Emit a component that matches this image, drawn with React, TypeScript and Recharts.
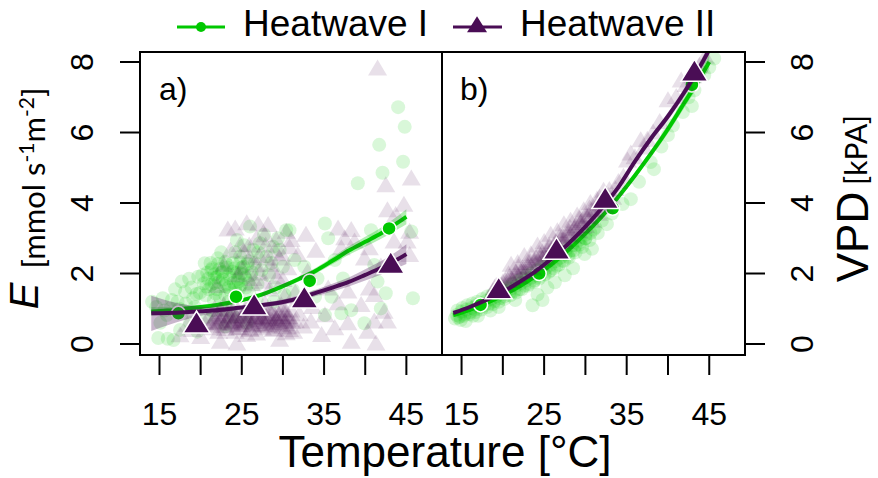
import { ComposedChart, XAxis, YAxis, Line, Area, Scatter, ReferenceArea } from 'recharts';

const GREEN = '#00C800';
const PURPLE = '#4A0D55';

// axes
const tempDomain: [number, number] = [12.63, 49.33];
const tempTicks = [15, 20, 25, 30, 35, 40, 45];
const tempLabels = [15, 25, 35, 45];
const valueDomain: [number, number] = [-0.312, 8.284];
const valueTicks = [0, 2, 4, 6, 8];

// fitted curves (and confidence limits), sampled along temperature
const fitTemps = [14, 16, 18, 20, 22, 24, 26, 28, 30, 32, 34, 36, 38, 40, 42, 44, 45];

const eFitHw1 = [0.92, 0.95, 1.0, 1.05, 1.11, 1.19, 1.3, 1.45, 1.64, 1.85, 2.08, 2.36, 2.65, 2.9, 3.15, 3.45, 3.61];
const eLoHw1 = [0.8, 0.86, 0.93, 0.99, 1.06, 1.14, 1.25, 1.4, 1.58, 1.78, 2.0, 2.26, 2.53, 2.76, 2.99, 3.26, 3.4];
const eHiHw1 = [1.04, 1.04, 1.07, 1.11, 1.16, 1.24, 1.35, 1.5, 1.7, 1.92, 2.16, 2.46, 2.77, 3.04, 3.31, 3.64, 3.82];

const eFitHw2 = [0.87, 0.88, 0.9, 0.93, 0.96, 1.01, 1.06, 1.12, 1.19, 1.3, 1.45, 1.6, 1.76, 1.96, 2.17, 2.41, 2.55];
const eLoHw2 = [0.37, 0.53, 0.68, 0.8, 0.88, 0.95, 1.0, 1.06, 1.12, 1.22, 1.36, 1.49, 1.63, 1.8, 1.98, 2.17, 2.27];
const eHiHw2 = [1.37, 1.23, 1.12, 1.06, 1.04, 1.07, 1.12, 1.18, 1.26, 1.38, 1.54, 1.71, 1.89, 2.12, 2.36, 2.65, 2.83];

const vFitHw1 = [0.82, 0.97, 1.16, 1.38, 1.63, 1.93, 2.28, 2.68, 3.13, 3.62, 4.18, 4.78, 5.42, 6.1, 6.85, 7.6, 8.0];
const vLoHw1 = [0.76, 0.92, 1.12, 1.34, 1.59, 1.89, 2.24, 2.64, 3.08, 3.56, 4.11, 4.7, 5.32, 5.98, 6.71, 7.43, 7.81];
const vHiHw1 = [0.88, 1.02, 1.2, 1.42, 1.67, 1.97, 2.32, 2.72, 3.18, 3.68, 4.25, 4.86, 5.52, 6.22, 6.99, 7.77, 8.19];

const vFitHw2 = [0.88, 1.05, 1.25, 1.48, 1.76, 2.07, 2.44, 2.86, 3.33, 3.86, 4.45, 5.18, 5.85, 6.46, 7.15, 7.92, 8.35];
const vLoHw2 = [0.82, 1.0, 1.21, 1.44, 1.72, 2.03, 2.4, 2.82, 3.28, 3.8, 4.38, 5.1, 5.76, 6.35, 7.03, 7.78, 8.2];
const vHiHw2 = [0.94, 1.1, 1.29, 1.52, 1.8, 2.11, 2.48, 2.9, 3.38, 3.92, 4.52, 5.26, 5.94, 6.57, 7.27, 8.06, 8.5];

// group means [temperature, value]
const eMeanHw1: [number, number][] = [[17.3, 0.87], [24.3, 1.34], [33.25, 1.79], [42.9, 3.28]];
const eMeanHw2: [number, number][] = [[19.5, 0.52], [26.5, 1.03], [32.6, 1.23], [43.1, 2.21]];
const vMeanHw1: [number, number][] = [[17.3, 1.11], [24.4, 2.0], [33.3, 3.85], [42.9, 7.35]];
const vMeanHw2: [number, number][] = [[19.5, 1.49], [26.5, 2.61], [32.4, 4.05], [43.2, 7.66]];

// raw observations [temperature, value]
const eObsHw1: [number, number][] = [
  [14.1, 1.2], [14.85, 0.17], [16.7, 0.11], [15.9, 0.82], [17.7, 1.77], [18.1, 1.48], [19.1, 1.3], [19.7, 1.91],
  [20.5, 2.29], [20.7, 1.63], [22.1, 2.43], [21.7, 1.73], [22.7, 2.05], [22.3, 1.34], [23.6, 1.53], [24.4, 2.95],
  [24.8, 2.48], [25.2, 2.19], [24.6, 1.77], [26.4, 2.67], [26.0, 3.33], [27.2, 2.86], [28.0, 2.48], [28.8, 2.76],
  [29.6, 2.67], [30.0, 2.19], [30.4, 3.23], [22.7, 0.96], [24.0, 0.77], [20.7, 0.77], [18.7, 0.6], [15.1, 0.6],
  [25.6, 0.6], [30.8, 3.23], [35.1, 3.42], [35.5, 3.0], [39.1, 4.56], [41.7, 5.65], [42.1, 4.86], [44.6, 5.17],
  [40.7, 3.23], [45.6, 3.19], [45.8, 1.3], [41.1, 2.24], [42.5, 1.44], [41.9, 1.01], [39.9, 0.59], [36.3, 2.38],
  [37.3, 1.86], [35.9, 1.34], [38.3, 0.96], [31.4, 2.38], [32.6, 2.19], [34.2, 1.86], [35.1, 0.82], [37.1, 0.87],
  [41.5, 1.77], [33.9, 1.34], [31.2, 1.53], [44.0, 6.72], [44.8, 6.16], [14.6, 1.05], [15.4, 1.3], [16.3, 1.0],
  [16.9, 1.55], [17.2, 1.2], [17.9, 0.95], [18.6, 1.85], [19.3, 1.05], [19.9, 1.45], [20.2, 1.95], [21.0, 1.55],
  [21.3, 2.1], [21.6, 1.25], [22.0, 1.9], [22.5, 2.6], [22.9, 1.65], [23.2, 2.25], [23.4, 1.2], [23.9, 2.05],
  [24.2, 2.6], [24.3, 1.45], [24.9, 2.0], [25.3, 2.8], [25.5, 1.6], [25.8, 2.35], [26.1, 1.95], [26.6, 2.3],
  [26.9, 1.7], [27.4, 2.1], [27.7, 3.1], [28.3, 1.95], [28.6, 2.3], [29.1, 1.6], [29.4, 3.0], [30.2, 1.4],
  [21.4, 0.95], [23.0, 0.5], [19.6, 0.35], [26.8, 1.25], [28.9, 1.2], [16.0, 0.15], [17.5, 0.4],
  [20.4, 1.72], [21.3, 1.68], [22.2, 1.75], [23.1, 1.7], [24.0, 1.74], [24.9, 1.68], [25.8, 1.72],
  [20.8, 2.02], [21.7, 1.98], [22.6, 2.03], [23.5, 1.97], [24.4, 2.02], [25.3, 1.98], [26.2, 2.04],
  [21.2, 2.3], [22.1, 2.27], [23.0, 2.33], [23.9, 2.29], [24.8, 2.31], [25.7, 2.27],
  [19.5, 1.42], [20.6, 1.38], [21.8, 1.43], [23.0, 1.39], [24.2, 1.62], [18.9, 1.6], [16.5, 1.25], [15.6, 0.95],
  [17.4, 1.0], [18.2, 1.15], [25.9, 1.45], [27.0, 2.6],
  [20.9, 1.85], [21.8, 1.88], [22.7, 1.83], [23.6, 1.87], [24.5, 1.84], [25.4, 1.88], [21.4, 2.15], [22.3, 2.13],
  [23.2, 2.17], [24.1, 2.14], [25.0, 2.16], [22.0, 1.55], [23.4, 1.6], [24.7, 1.58],
];

const eObsHw2: [number, number][] = [
  [24.2, 3.23], [25.6, 3.38], [28.2, 3.33], [27.8, 3.04], [30.4, 3.14], [29.2, 2.9], [26.8, 2.95], [24.8, 2.76],
  [28.0, 2.38], [29.6, 2.38], [26.8, 2.19], [28.8, 2.0], [30.0, 1.77], [27.6, 1.72], [25.2, 2.57], [22.4, 0.02],
  [24.4, -0.03], [25.6, 0.21], [29.6, 0.07], [30.4, 0.26], [21.5, 0.4], [17.5, 0.2], [42.5, 4.46], [45.6, 4.65],
  [42.7, 3.75], [44.7, 3.9], [43.7, 3.61], [45.4, 3.14], [43.5, 2.86], [45.4, 2.48], [36.7, 3.23], [38.3, 3.19],
  [37.5, 2.95], [37.1, 2.67], [38.7, 2.86], [40.5, 2.67], [39.9, 2.38], [41.9, 2.15], [40.5, 1.53], [41.1, 1.34],
  [39.5, 1.06], [42.3, 0.87], [42.7, 0.59], [41.1, 0.59], [40.3, 0.3], [41.3, -0.03], [35.1, 0.77], [34.7, 0.21],
  [36.3, 0.4], [38.3, 0.02], [37.9, 0.54], [36.7, 1.11], [37.9, 1.44], [32.2, 1.15], [31.0, 2.9], [31.8, 2.48],
  [33.4, 0.59], [35.5, 1.53], [45.1, 2.86], [41.5, 7.77], [21.0, 0.7], [22.0, 0.55], [22.5, 0.85], [23.0, 0.45],
  [23.5, 0.75], [24.0, 0.6], [24.5, 0.9], [25.0, 0.5], [25.5, 0.75], [26.0, 0.35], [26.5, 0.65], [27.0, 0.85],
  [27.5, 0.5], [28.0, 0.7], [28.5, 0.95], [29.0, 0.55], [29.5, 0.8], [30.0, 0.45], [30.5, 0.7], [31.0, 0.9],
  [31.5, 0.6], [32.0, 0.8], [22.8, 1.05], [24.2, 0.3], [26.8, 0.25], [28.8, 0.35], [25.8, 1.0], [27.8, 1.1],
  [29.8, 1.05], [23.5, 0.95], [30.8, 0.35], [32.5, 0.45], [22.2, 0.3], [23.8, 0.55], [25.3, 0.85], [26.3, 0.5],
  [27.3, 0.7], [28.3, 0.45], [29.3, 0.65], [30.3, 0.9], [31.3, 0.3], [24.8, 0.4], [26.6, 0.95], [21.7, 0.95],
  [19.0, 0.35], [20.0, 0.15], [20.5, 0.55], [18.4, 0.5], [22.8, 2.2], [23.6, 2.6], [24.6, 1.9], [25.9, 2.75],
  [26.2, 1.65], [27.1, 2.45], [28.4, 1.5], [29.0, 2.6], [30.6, 2.1], [31.5, 1.4], [22.0, 1.6], [23.3, 3.2],
  [27.0, 3.35], [33.0, 2.0], [34.0, 2.6], [33.6, 1.0], [32.8, 3.05],
  [21.2, 0.48], [22.1, 0.53], [22.9, 0.47], [23.8, 0.52], [24.6, 0.49], [25.4, 0.54], [26.3, 0.47], [27.1, 0.52],
  [27.9, 0.48], [28.8, 0.53], [29.6, 0.49], [30.4, 0.51],
  [21.6, 0.66], [22.5, 0.63], [23.3, 0.68], [24.1, 0.64], [25.0, 0.67], [25.8, 0.63], [26.6, 0.68], [27.5, 0.64],
  [28.3, 0.66], [29.1, 0.62], [30.0, 0.67], [30.8, 0.64],
  [22.0, 0.8], [22.8, 0.78], [23.7, 0.82], [24.5, 0.79], [25.3, 0.81], [26.2, 0.78], [27.0, 0.82], [27.8, 0.79],
  [28.7, 0.81], [29.5, 0.78], [30.3, 0.8],
  [23.0, 0.38], [24.5, 0.41], [26.0, 0.37], [27.5, 0.4], [29.0, 0.38], [30.5, 0.42],
  [25.0, 2.1], [26.0, 2.4], [27.2, 1.95], [28.6, 2.2], [29.8, 2.5], [30.8, 2.7], [27.9, 2.75], [26.4, 1.8],
  [29.3, 1.85], [30.2, 1.3],
  [21.5, 0.58], [22.3, 0.6], [23.1, 0.57], [23.9, 0.6], [24.7, 0.58], [25.5, 0.61], [26.3, 0.57], [27.1, 0.6],
  [27.9, 0.58], [28.7, 0.61], [29.5, 0.57], [30.3, 0.6], [31.1, 0.58],
  [21.9, 0.73], [22.7, 0.71], [23.5, 0.74], [24.3, 0.72], [25.1, 0.74], [25.9, 0.71], [26.7, 0.73], [27.5, 0.72],
  [28.3, 0.74], [29.1, 0.71], [29.9, 0.73], [30.7, 0.72],
  [22.4, 0.92], [23.9, 0.9], [25.4, 0.93], [26.9, 0.91], [28.4, 0.88], [29.9, 0.9],
];

const vObsHw1: [number, number][] = [
  [14.2, 0.72], [14.5, 0.95], [14.8, 0.78], [15.1, 1.02], [15.4, 0.85], [15.7, 1.1], [16.0, 0.9], [16.3, 1.15],
  [16.6, 0.98], [16.9, 1.2], [17.2, 1.05], [17.5, 1.28], [17.8, 1.1], [18.1, 1.35], [18.4, 1.15], [18.7, 1.4],
  [19.0, 1.22], [19.3, 1.48], [19.6, 1.3], [19.9, 1.55], [20.2, 1.35], [20.5, 1.6], [20.8, 1.45], [21.1, 1.7],
  [21.4, 1.5], [21.7, 1.78], [22.0, 1.55], [22.3, 1.85], [22.6, 1.65], [22.9, 1.95], [23.2, 1.7], [23.5, 2.0],
  [23.8, 1.8], [24.1, 2.1], [24.4, 1.9], [24.7, 2.2], [25.0, 1.98], [25.3, 2.3], [25.6, 2.05], [25.9, 2.4],
  [26.2, 2.15], [26.5, 2.5], [26.8, 2.25], [27.1, 2.6], [27.4, 2.35], [27.7, 2.7], [28.0, 2.45], [28.4, 2.8],
  [28.8, 2.6], [29.2, 2.95], [29.6, 2.75], [30.0, 3.1], [30.5, 2.95], [31.0, 3.25], [31.5, 3.15], [32.0, 3.5],
  [32.6, 3.4], [33.2, 3.7], [23.6, 1.1], [24.2, 1.4], [24.8, 1.25], [26.3, 1.75], [27.5, 1.95], [28.5, 2.15],
  [15.5, 0.65], [17.0, 0.8], [18.5, 0.95], [34.5, 3.97], [35.5, 4.11], [36.5, 4.6], [37.9, 5.16], [38.3, 4.96],
  [39.2, 5.6], [40.0, 5.93], [40.6, 6.2], [41.8, 6.58], [42.5, 7.0], [43.2, 7.2], [44.4, 7.63], [45.0, 7.85],
  [45.6, 8.1], [42.9, 6.75],
  [14.4, 0.82], [15.0, 0.92], [15.6, 0.98], [16.2, 1.02], [16.8, 1.1], [17.4, 1.15], [18.0, 1.22], [18.6, 1.28],
  [19.2, 1.35], [19.8, 1.42], [20.4, 1.5], [21.0, 1.58], [21.6, 1.65], [22.2, 1.72], [22.8, 1.8], [23.4, 1.88],
  [24.0, 1.95], [24.6, 2.05], [25.2, 2.15], [25.8, 2.25], [26.4, 2.35], [27.0, 2.45], [27.6, 2.55], [28.2, 2.65],
  [28.8, 2.8], [29.4, 2.9], [30.0, 3.0], [30.6, 3.15], [31.2, 3.3], [14.9, 0.68], [16.4, 0.8], [19.5, 1.05],
  [21.5, 1.25], [25.4, 1.6], [29.9, 2.55], [30.8, 2.7],
  [14.6, 0.75], [15.3, 0.8], [16.0, 0.85], [16.7, 0.91], [17.4, 0.98], [18.1, 1.05], [18.8, 1.13], [19.5, 1.2],
  [20.2, 1.28], [20.9, 1.38], [21.6, 1.46], [22.3, 1.55], [23.0, 1.65], [23.7, 1.76], [24.4, 1.86], [25.1, 1.97],
  [25.8, 2.1], [26.5, 2.22], [27.2, 2.36], [27.9, 2.5], [28.6, 2.66], [29.3, 2.82], [30.0, 3.0],
];

const vObsHw2: [number, number][] = [
  [18.8, 1.45], [19.2, 1.6], [19.6, 1.5], [20.0, 1.7], [20.4, 1.62], [20.8, 1.85], [21.2, 1.75], [21.6, 1.98],
  [22.0, 1.85], [22.4, 2.1], [22.8, 1.98], [23.2, 2.25], [23.6, 2.1], [24.0, 2.4], [24.4, 2.25], [24.8, 2.55],
  [25.2, 2.4], [25.6, 2.7], [26.0, 2.55], [26.4, 2.85], [26.8, 2.7], [27.2, 3.0], [27.6, 2.85], [28.0, 3.15],
  [28.4, 3.0], [28.8, 3.3], [29.2, 3.15], [29.6, 3.45], [30.0, 3.3], [30.4, 3.6], [30.8, 3.45], [31.2, 3.75],
  [31.6, 3.65], [32.0, 3.95], [32.4, 3.85], [32.8, 4.15], [33.3, 4.1], [21.0, 2.2], [22.6, 2.45], [24.2, 2.75],
  [25.8, 3.05], [27.4, 3.35], [29.0, 3.6], [30.6, 3.95], [34.0, 4.55], [34.6, 4.7], [35.1, 5.16], [35.5, 5.36],
  [36.0, 5.25], [36.7, 5.73], [37.1, 5.53], [37.5, 5.75], [38.2, 5.95], [39.0, 6.25], [40.0, 6.87], [41.0, 6.96],
  [41.6, 7.43], [42.2, 7.3], [43.0, 7.55], [43.8, 7.85], [44.5, 8.1],
  [19.0, 1.55], [19.8, 1.62], [20.6, 1.75], [21.4, 1.88], [22.2, 2.0], [23.0, 2.15], [23.8, 2.3], [24.6, 2.45],
  [25.4, 2.6], [26.2, 2.75], [27.0, 2.9], [27.8, 3.05], [28.6, 3.2], [29.4, 3.38], [30.2, 3.55], [31.0, 3.7],
  [31.8, 3.88], [32.6, 4.05], [21.8, 2.25], [23.4, 2.5], [25.0, 2.85], [26.6, 3.15], [28.2, 3.45], [29.8, 3.75],
  [31.4, 4.05], [24.8, 2.35], [27.2, 2.78], [29.6, 3.28], [32.2, 4.3], [33.6, 4.35],
  [20.3, 1.73], [21.0, 1.82], [21.7, 1.93], [22.4, 2.03], [23.1, 2.13], [23.8, 2.24], [24.5, 2.36], [25.2, 2.48],
  [25.9, 2.62], [26.6, 2.76], [27.3, 2.91], [28.0, 3.06], [28.7, 3.22], [29.4, 3.39], [30.1, 3.56], [30.8, 3.74],
  [31.5, 3.93], [32.2, 4.12], [32.9, 4.32],
  [20.7, 1.93], [21.9, 2.12], [23.2, 2.32], [24.4, 2.52], [25.6, 2.74], [26.9, 3.0], [28.1, 3.26], [29.3, 3.5],
  [30.5, 3.8], [31.7, 4.1],
];

const toPoints = (rows: [number, number][]) => rows.map(([t, v]) => ({ t, v }));

const buildFits = (f1: number[], lo1: number[], hi1: number[], f2: number[], lo2: number[], hi2: number[]) =>
  fitTemps.map((t, i) => ({ t, fit1: f1[i], band1: [lo1[i], hi1[i]], fit2: f2[i], band2: [lo2[i], hi2[i]] }));

const FONT = '"Liberation Sans", Arial, sans-serif';
const LABEL_FONT = 'Lato, "Open Sans", sans-serif';

function SmallCircle(props: any) {
  const { cx, cy } = props;
  return <circle cx={cx} cy={cy} r={7} fill={GREEN} fillOpacity={0.15} />;
}

function triangle(cx: number, cy: number, w: number, h: number) {
  return `${cx},${cy - (2 * h) / 3} ${cx + w / 2},${cy + h / 3} ${cx - w / 2},${cy + h / 3}`;
}

function SmallTriangle(props: any) {
  const { cx, cy } = props;
  return <polygon points={triangle(cx, cy, 19, 16)} fill={PURPLE} fillOpacity={0.13} />;
}

function BigCircle(props: any) {
  const { cx, cy } = props;
  return <circle cx={cx} cy={cy} r={7} fill={GREEN} stroke="#fff" strokeWidth={1.5} />;
}

function BigTriangle(props: any) {
  const { cx, cy } = props;
  return <polygon points={triangle(cx, cy, 27, 22)} fill={PURPLE} stroke="#fff" strokeWidth={1.5} />;
}

function TempTick(props: any) {
  const { x, y, payload } = props;
  if (!tempLabels.includes(payload.value)) return <g />;
  return (
    <text x={x} y={y + 50} textAnchor="middle" fontSize={32} fill="#000" fontFamily={FONT}>
      {payload.value}
    </text>
  );
}

function ValueTick(props: any) {
  const { x, y, payload, orientation } = props;
  const bx = orientation === 'right' ? x + 48 : x - 27;
  return (
    <text x={bx} y={y} transform={`rotate(-90 ${bx} ${y})`} textAnchor="middle" fontSize={32} fill="#000" fontFamily={FONT}>
      {payload.value}
    </text>
  );
}

type PanelProps = {
  side: 'left' | 'right';
  fits: ReturnType<typeof buildFits>;
  obs1: [number, number][];
  obs2: [number, number][];
  mean1: [number, number][];
  mean2: [number, number][];
};

function Panel({ side, fits, obs1, obs2, mean1, mean2 }: PanelProps) {
  const left = side === 'left';
  // Heatwave I layers first, then Heatwave II on top
  const z = (n: number) => ({ zIndex: 100 + n } as any);
  return (
    <ComposedChart
      width={left ? 442 : 436}
      height={478}
      data={fits}
      margin={{ top: 52, right: 0, bottom: 0, left: 0 }}
    >
      <XAxis
        type="number"
        dataKey="t"
        domain={tempDomain}
        allowDataOverflow
        ticks={tempTicks}
        interval={0}
        height={123}
        tickSize={20}
        tickMargin={0}
        axisLine={false}
        tickLine={{ stroke: '#000', strokeWidth: 2 }}
        tick={<TempTick />}
      />
      <YAxis
        type="number"
        orientation={side}
        domain={valueDomain}
        allowDataOverflow
        ticks={valueTicks}
        interval={0}
        width={left ? 140 : 133}
        tickSize={20}
        tickMargin={0}
        axisLine={false}
        tickLine={{ stroke: '#000', strokeWidth: 2 }}
        tick={<ValueTick orientation={side} />}
      />
      <Scatter {...z(1)} data={toPoints(obs1)} dataKey="v" shape={SmallCircle} isAnimationActive={false} />
      <Area {...z(2)} dataKey="band1" type="monotone" stroke="none" fill={GREEN} fillOpacity={0.3} isAnimationActive={false} />
      <Line {...z(3)} dataKey="fit1" type="monotone" stroke={GREEN} strokeWidth={4} dot={false} isAnimationActive={false} />
      <Scatter {...z(4)} data={toPoints(mean1)} dataKey="v" shape={BigCircle} isAnimationActive={false} />
      <Scatter {...z(5)} data={toPoints(obs2)} dataKey="v" shape={SmallTriangle} isAnimationActive={false} />
      <Area {...z(6)} dataKey="band2" type="monotone" stroke="none" fill={PURPLE} fillOpacity={0.3} isAnimationActive={false} />
      <Line {...z(7)} dataKey="fit2" type="monotone" stroke={PURPLE} strokeWidth={4} dot={false} isAnimationActive={false} />
      <Scatter {...z(8)} data={toPoints(mean2)} dataKey="v" shape={BigTriangle} isAnimationActive={false} />
      <ReferenceArea
        {...z(9)}
        x1={tempDomain[0]}
        x2={tempDomain[1]}
        y1={valueDomain[0]}
        y2={valueDomain[1]}
        fill="none"
        fillOpacity={0}
        stroke="#000"
        strokeWidth={2}
      />
    </ComposedChart>
  );
}

export default function App() {
  const eFits = buildFits(eFitHw1, eLoHw1, eHiHw1, eFitHw2, eLoHw2, eHiHw2);
  const vFits = buildFits(vFitHw1, vLoHw1, vHiHw1, vFitHw2, vLoHw2, vHiHw2);
  return (
    <div style={{ position: 'relative', width: 878, height: 478, background: '#fff', fontFamily: FONT }}>
      <style>{'body{margin:0}'}</style>
      <div style={{ position: 'absolute', left: 0, top: 0 }}>
        <Panel side="left" fits={eFits} obs1={eObsHw1} obs2={eObsHw2} mean1={eMeanHw1} mean2={eMeanHw2} />
      </div>
      <div style={{ position: 'absolute', left: 442, top: 0 }}>
        <Panel side="right" fits={vFits} obs1={vObsHw1} obs2={vObsHw2} mean1={vMeanHw1} mean2={vMeanHw2} />
      </div>
      <svg width={878} height={478} style={{ position: 'absolute', left: 0, top: 0, pointerEvents: 'none' }}>
        {/* legend */}
        <line x1={177} x2={225} y1={27} y2={27} stroke={GREEN} strokeWidth={3} />
        <circle cx={201} cy={27} r={5} fill={GREEN} />
        <text x={243} y={36} fontSize={37} fontFamily={FONT}>Heatwave I</text>
        <line x1={453} x2={502} y1={27} y2={27} stroke={PURPLE} strokeWidth={3} />
        <polygon points={triangle(477, 27, 20, 16)} fill={PURPLE} />
        <text x={520} y={36} fontSize={37} fontFamily={FONT}>Heatwave II</text>

        {/* panel tags */}
        <text x={159} y={100} fontSize={32} fontFamily={FONT}>a)</text>
        <text x={460} y={100} fontSize={32} fontFamily={FONT}>b)</text>

        {/* axis titles */}
        <text x={445} y={467} textAnchor="middle" fontSize={44} fontFamily={FONT}>Temperature [°C]</text>
        <text x={38} y={296} transform="rotate(-90 38 296)" textAnchor="middle" fontSize={40} fontStyle="italic" fontFamily={FONT}>E</text>
        <text x={45} y={178} transform="rotate(-90 45 178)" textAnchor="middle" fontSize={31} fontFamily={LABEL_FONT}>
          [mmol s<tspan dy={-11} fontSize={21}>-1</tspan><tspan dy={11}>m</tspan><tspan dy={-11} fontSize={21}>-2</tspan><tspan dy={11}>]</tspan>
        </text>
        <text x={868} y={237} transform="rotate(-90 868 237)" textAnchor="middle" fontSize={44} fontFamily={FONT}>VPD</text>
        <text x={867} y={150} transform="rotate(-90 867 150)" textAnchor="middle" fontSize={30} fontFamily={LABEL_FONT}>[kPA]</text>
      </svg>
    </div>
  );
}
